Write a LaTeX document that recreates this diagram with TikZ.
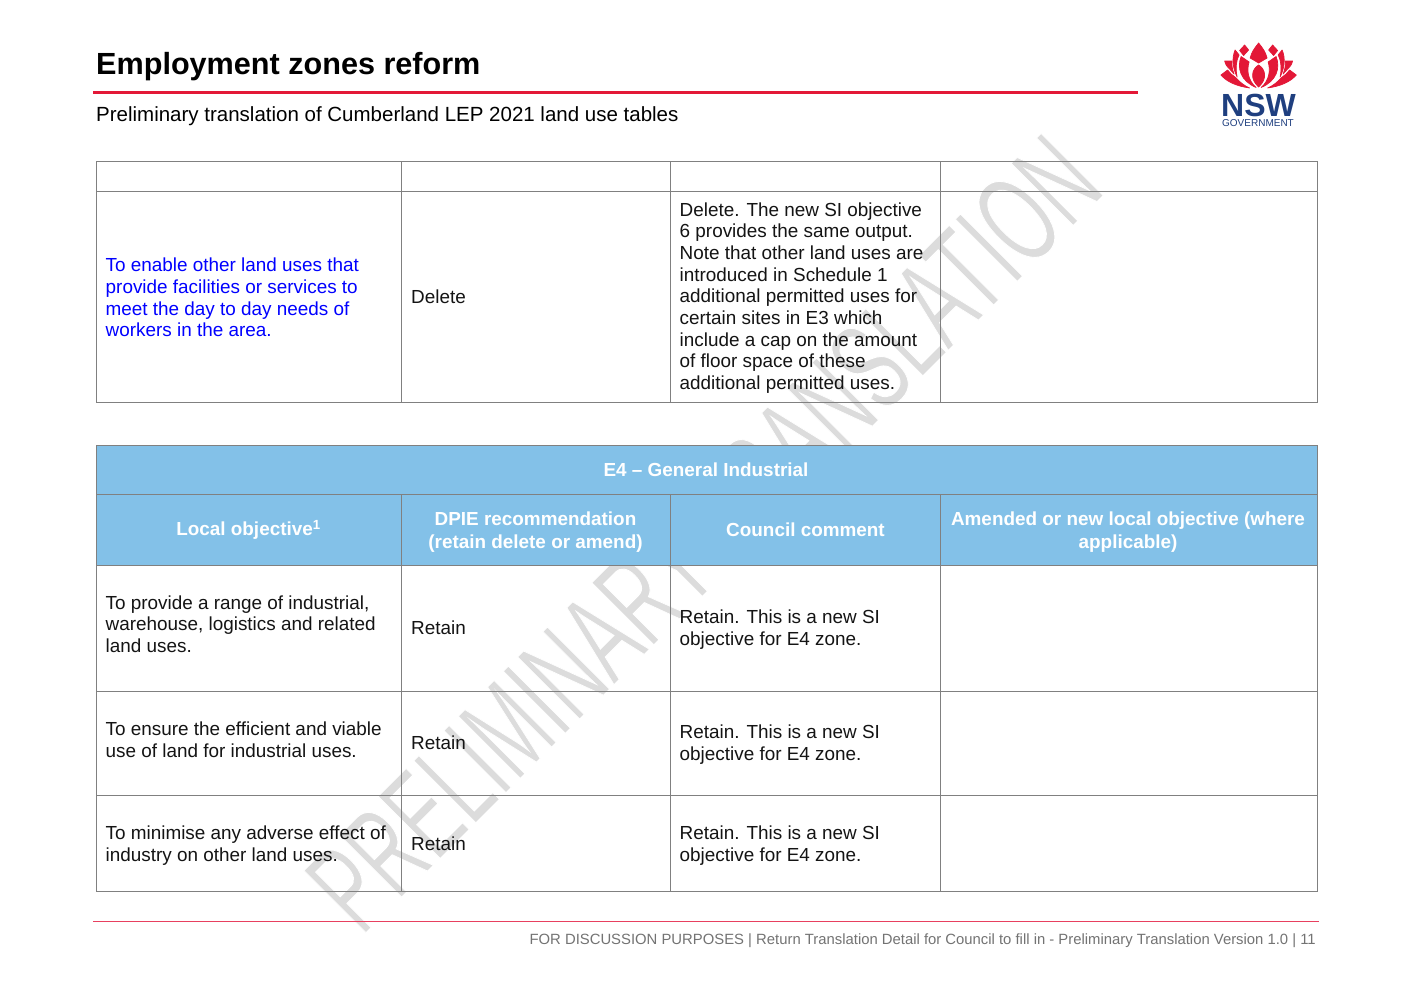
\documentclass[tikz,border=0pt]{standalone}
\usepackage{fontspec}
\setmainfont{Liberation Sans}
\definecolor{hdr}{HTML}{83C1E8}
\definecolor{nswred}{HTML}{E31837}
\definecolor{nswblue}{HTML}{1F3F7F}
\definecolor{grid}{HTML}{808080}
\definecolor{footrule}{HTML}{E8405F}
\definecolor{wm}{HTML}{DCDCDC}
\tikzset{
 cell/.style={draw=grid,line width=.9pt},
 hcell/.style={cell,fill=hdr},
 body/.style={anchor=west,align=left,font=\fontsize{18.9}{21.7}\selectfont,inner sep=0pt,text=black!92},
 head/.style={anchor=center,align=center,font=\fontsize{18.9}{23}\selectfont\bfseries,text=white,inner sep=0pt},
 petal/.style={fill=nswred,draw=nswred,line width=.7pt,line join=round},
}
\begin{document}
\begin{tikzpicture}[x=1pt,y=-1pt]
\useasboundingbox[fill=white] (0,0) rectangle (1412,991);
% watermark
\node[rotate=45,xscale=.59,transform shape,text=wm,inner sep=0pt,font=\fontsize{128}{128}\selectfont] (wm) at (703.5,533) {\special{pdf:code q 2 Tr 1.1 w 1 1 1 RG}PRELIMINARY TRANSLATION\special{pdf:code Q}};
% title
\node[anchor=base west,inner sep=0pt,font=\fontsize{30.6}{32}\selectfont\bfseries] (title) at (96,74) {Employment zones reform};
\coordinate (ra) at (93,92); \coordinate (rb) at (1138,92);
\draw[nswred,line width=3pt] (ra) -- (rb);
\node[anchor=base west,inner sep=0pt,font=\fontsize{20.5}{22}\selectfont] (sub) at (96,121) {Preliminary translation of Cumberland LEP 2021 land use tables};
% table 1
\foreach \x/\X in {96/401,401/670,670/940,940/1317}{
 \draw[cell] (\x,161) rectangle (\X,191);
 \draw[cell] (\x,191) rectangle (\X,402);
}
\node[body,text=blue] (a0) at (105.5,297.4) {To enable other land uses that\\provide facilities or services to\\meet the day to day needs of\\workers in the area.};
\node[body] (b0) at (411,297) {Delete};
\node[body] (c0) at (679.5,298) {Delete. The new SI objective\\6 provides the same output.\\Note that other land uses are\\introduced in Schedule 1\\additional permitted uses for\\certain sites in E3 which\\include a cap on the amount\\of floor space of these\\additional permitted uses.};
% table 2
\draw[hcell] (96,445) rectangle (1317,494);
\node[head] (e4) at (706,470) {E4 – General Industrial};
\foreach \x/\X in {96/401,401/670,670/940,940/1317}{
 \draw[hcell] (\x,494) rectangle (\X,565);
 \draw[cell] (\x,565) rectangle (\X,691);
 \draw[cell] (\x,691) rectangle (\X,795);
 \draw[cell] (\x,795) rectangle (\X,891);
}
\node[head] (h1) at (248.5,530) {Local objective\textsuperscript{1}};
\node[head] (h2) at (535.5,532) {DPIE recommendation\\(retain delete or amend)};
\node[head] (h3) at (805.5,529.5) {Council comment};
\node[head] (h4) at (1128,532) {Amended or new local objective (where\\applicable)};
\node[body] (a1) at (105.5,624) {To provide a range of industrial,\\warehouse, logistics and related\\land uses.};
\node[body] (b1) at (411,628) {Retain};
\node[body] (c1) at (679.5,629.4) {Retain. This is a new SI\\objective for E4 zone.};
\node[body] (a2) at (105.5,739.5) {To ensure the efficient and viable\\use of land for industrial uses.};
\node[body] (b2) at (411,743) {Retain};
\node[body] (c2) at (679.5,744.4) {Retain. This is a new SI\\objective for E4 zone.};
\node[body] (a3) at (105.5,845.4) {To minimise any adverse effect of\\industry on other land uses.};
\node[body] (b3) at (411,844) {Retain};
\node[body] (c3) at (679.5,845.4) {Retain. This is a new SI\\objective for E4 zone.};
% footer
\coordinate (fa) at (93,921.5); \coordinate (fb) at (1319,921.5);
\draw[color=footrule,line width=1pt] (fa) -- (fb);
\node[anchor=base east,inner sep=0pt,text=black!55,font=\fontsize{14.85}{16}\selectfont] (foot) at (1316,944) {FOR DISCUSSION PURPOSES | Return Translation Detail for Council to fill in - Preliminary Translation Version 1.0 | 11};
% logo
\begin{scope}[shift={(1258.6,38)}]
 \fill[petal] (0,5) .. controls (4,10) and (7,14) .. (8.5,20) -- (0,25) -- (-8.5,20) .. controls (-7,14) and (-4,10) .. (0,5) -- cycle;
 \fill[petal] (0,27) .. controls (7,31) and (9,41) .. (0,49) .. controls (-9,41) and (-7,31) .. (0,27) -- cycle;
 \foreach \s in {1,-1}{
  \begin{scope}[xscale=\s]
  \fill[petal] (14,7) -- (19,12.5) -- (15,17.5) -- (10,12) -- cycle;
  \fill[petal] (2.5,49.5) .. controls (11,42) and (12,32) .. (9.5,24) -- (17.5,18.5) .. controls (22,30) and (18,43) .. (2.5,49.5) -- cycle;
  \fill[petal] (19.5,17) -- (23.5,12) .. controls (27,20) and (26,30) .. (21.5,39) .. controls (23,31) and (23,24) .. (19.5,17) -- cycle;
  \fill[petal] (26.5,23) -- (34,23) .. controls (33,27) and (31,29.5) .. (29,31) -- (24.5,36) .. controls (26.5,31) and (27,27) .. (26.5,23) -- cycle;
  \fill[petal] (23,39.5) .. controls (26,37.5) and (29,35) .. (31,32) -- (37.7,37) .. controls (32,43.5) and (23,48) .. (9,50) .. controls (14,48) and (19,44) .. (23,39.5) -- cycle;
  \end{scope}
 }
\end{scope}
\node[inner sep=0pt,text=nswblue,font=\fontsize{32}{33}\selectfont\bfseries] (nsw) at (1258.5,105) {NSW};
\node[inner sep=0pt,text=nswblue,font=\fontsize{10}{10}\selectfont] (gov) at (1258,123) {GOVERNMENT};
\end{tikzpicture}
\end{document}
